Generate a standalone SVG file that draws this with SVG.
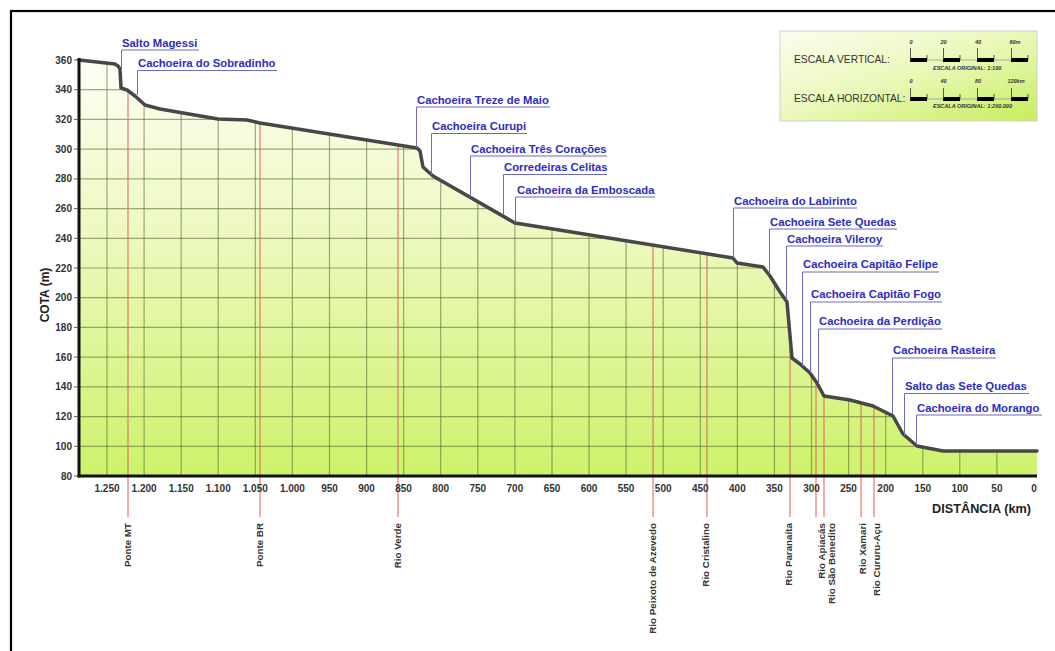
<svg xmlns="http://www.w3.org/2000/svg" width="1055" height="651" viewBox="0 0 1055 651">
<defs>
<linearGradient id="fillGrad" x1="0" y1="60" x2="0" y2="476" gradientUnits="userSpaceOnUse">
<stop offset="0" stop-color="#fdfef4"/>
<stop offset="0.4" stop-color="#eef9c2"/>
<stop offset="1" stop-color="#cdf26a"/>
</linearGradient>
<linearGradient id="legGrad" x1="0" y1="0" x2="1" y2="1">
<stop offset="0" stop-color="#fbfdf0"/>
<stop offset="0.5" stop-color="#eaf8b8"/>
<stop offset="1" stop-color="#c6ee5c"/>
</linearGradient>
<clipPath id="fillClip">
<path d="M79,60 L115,64 L118,66 L120,69 L121,88 L127,90 L135,96 L145,105 L160,109 L218,119 L247,120 L260,123 L417,148 L420,151 L423,167 L433,176 L515,223 L553,229 L733,258 L737,263 L763,267 L770,276 L780,292 L787,302 L792,358 L800,364 L810,373 L817,383 L824,396 L850,400 L873,406 L893,416 L903,434 L917,446 L943,451 L1037,451 L1037,476 L79,476 Z"/>
</clipPath>
<style>
.grid line{stroke:#56652c;stroke-opacity:0.55;stroke-width:1.2}
.ylab{font-family:"Liberation Sans",Arial,sans-serif;font-size:10px;font-weight:bold;fill:#333;text-anchor:end}
.xlab{font-family:"Liberation Sans",Arial,sans-serif;font-size:10px;font-weight:bold;fill:#333;text-anchor:middle}
.river line{stroke:#e0605a;stroke-width:1.2;stroke-opacity:0.85}
.rlab{font-family:"Liberation Sans",Arial,sans-serif;font-size:9.8px;font-weight:bold;fill:#333;text-anchor:end}
.fall text{font-family:"Liberation Sans",Arial,sans-serif;font-size:11.3px;font-weight:bold;fill:#2d2dbf}
.fall line{stroke:#6b6bbf;stroke-width:1}
.leg{font-family:"Liberation Sans",Arial,sans-serif;font-size:10.3px;fill:#333}
.tiny{font-family:"Liberation Sans",Arial,sans-serif;font-size:5.5px;font-weight:bold;font-style:italic;fill:#333}
.tk{stroke:#333;stroke-width:0.8}
</style>
</defs>
<rect x="0" y="0" width="1055" height="651" fill="#ffffff"/>
<rect x="11" y="11" width="1100" height="700" fill="none" stroke="#000" stroke-width="2.2"/>

<g id="profile-area">
<path d="M79,60 L115,64 L118,66 L120,69 L121,88 L127,90 L135,96 L145,105 L160,109 L218,119 L247,120 L260,123 L417,148 L420,151 L423,167 L433,176 L515,223 L553,229 L733,258 L737,263 L763,267 L770,276 L780,292 L787,302 L792,358 L800,364 L810,373 L817,383 L824,396 L850,400 L873,406 L893,416 L903,434 L917,446 L943,451 L1037,451 L1037,476 L79,476 Z" fill="url(#fillGrad)"/>
<g class="grid" clip-path="url(#fillClip)">
<line x1="107" y1="40" x2="107" y2="476"/><line x1="144.1" y1="40" x2="144.1" y2="476"/><line x1="181.2" y1="40" x2="181.2" y2="476"/><line x1="218.2" y1="40" x2="218.2" y2="476"/><line x1="255.3" y1="40" x2="255.3" y2="476"/><line x1="292.4" y1="40" x2="292.4" y2="476"/><line x1="329.5" y1="40" x2="329.5" y2="476"/><line x1="366.6" y1="40" x2="366.6" y2="476"/><line x1="403.6" y1="40" x2="403.6" y2="476"/><line x1="440.7" y1="40" x2="440.7" y2="476"/><line x1="477.8" y1="40" x2="477.8" y2="476"/><line x1="514.9" y1="40" x2="514.9" y2="476"/><line x1="552" y1="40" x2="552" y2="476"/><line x1="589" y1="40" x2="589" y2="476"/><line x1="626.1" y1="40" x2="626.1" y2="476"/><line x1="663.2" y1="40" x2="663.2" y2="476"/><line x1="700.3" y1="40" x2="700.3" y2="476"/><line x1="737.4" y1="40" x2="737.4" y2="476"/><line x1="774.4" y1="40" x2="774.4" y2="476"/><line x1="811.5" y1="40" x2="811.5" y2="476"/><line x1="848.6" y1="40" x2="848.6" y2="476"/><line x1="885.7" y1="40" x2="885.7" y2="476"/><line x1="922.8" y1="40" x2="922.8" y2="476"/><line x1="959.8" y1="40" x2="959.8" y2="476"/><line x1="996.9" y1="40" x2="996.9" y2="476"/>
<line x1="79" y1="446.3" x2="1040" y2="446.3"/><line x1="79" y1="416.6" x2="1040" y2="416.6"/><line x1="79" y1="386.9" x2="1040" y2="386.9"/><line x1="79" y1="357.1" x2="1040" y2="357.1"/><line x1="79" y1="327.4" x2="1040" y2="327.4"/><line x1="79" y1="297.7" x2="1040" y2="297.7"/><line x1="79" y1="268" x2="1040" y2="268"/><line x1="79" y1="238.3" x2="1040" y2="238.3"/><line x1="79" y1="208.6" x2="1040" y2="208.6"/><line x1="79" y1="178.9" x2="1040" y2="178.9"/><line x1="79" y1="149.1" x2="1040" y2="149.1"/><line x1="79" y1="119.4" x2="1040" y2="119.4"/><line x1="79" y1="89.7" x2="1040" y2="89.7"/>
</g>
</g>

<g id="rivers" class="river">
<line x1="128" y1="91" x2="128" y2="517"/>
<line x1="260" y1="123" x2="260" y2="517"/>
<line x1="398" y1="145" x2="398" y2="517"/>
<line x1="653" y1="245" x2="653" y2="517"/>
<line x1="707" y1="254" x2="707" y2="517"/>
<line x1="790" y1="330" x2="790" y2="517"/>
<line x1="816" y1="382" x2="816" y2="517"/>
<line x1="824" y1="396" x2="824" y2="517"/>
<line x1="861" y1="403" x2="861" y2="517"/>
<line x1="874" y1="406" x2="874" y2="517"/>
</g>

<g id="profile-line">
<path d="M79,60 L115,64 L118,66 L120,69 L121,88 L127,90 L135,96 L145,105 L160,109 L218,119 L247,120 L260,123 L417,148 L420,151 L423,167 L433,176 L515,223 L553,229 L733,258 L737,263 L763,267 L770,276 L780,292 L787,302 L792,358 L800,364 L810,373 L817,383 L824,396 L850,400 L873,406 L893,416 L903,434 L917,446 L943,451 L1037,451" fill="none" stroke="#474747" stroke-width="3.5" stroke-linejoin="round" stroke-linecap="round"/>
</g>

<g id="axes">
<line x1="79" y1="58" x2="79" y2="477.5" stroke="#111" stroke-width="3"/>
<line x1="77.5" y1="476" x2="1037" y2="476" stroke="#111" stroke-width="3"/>
<g class="tk">
<line x1="74" y1="60" x2="79" y2="60"/><line x1="74" y1="89.7" x2="79" y2="89.7"/><line x1="74" y1="119.4" x2="79" y2="119.4"/><line x1="74" y1="149.1" x2="79" y2="149.1"/><line x1="74" y1="178.9" x2="79" y2="178.9"/><line x1="74" y1="208.6" x2="79" y2="208.6"/><line x1="74" y1="238.3" x2="79" y2="238.3"/><line x1="74" y1="268" x2="79" y2="268"/><line x1="74" y1="297.7" x2="79" y2="297.7"/><line x1="74" y1="327.4" x2="79" y2="327.4"/><line x1="74" y1="357.1" x2="79" y2="357.1"/><line x1="74" y1="386.9" x2="79" y2="386.9"/><line x1="74" y1="416.6" x2="79" y2="416.6"/><line x1="74" y1="446.3" x2="79" y2="446.3"/><line x1="74" y1="476" x2="79" y2="476"/>
</g>
<g class="ylab">
<text x="72" y="63.5">360</text><text x="72" y="93.2">340</text><text x="72" y="122.9">320</text><text x="72" y="152.6">300</text><text x="72" y="182.4">280</text><text x="72" y="212.1">260</text><text x="72" y="241.8">240</text><text x="72" y="271.5">220</text><text x="72" y="301.2">200</text><text x="72" y="330.9">180</text><text x="72" y="360.6">160</text><text x="72" y="390.4">140</text><text x="72" y="420.1">120</text><text x="72" y="449.8">100</text><text x="72" y="479.5">80</text>
</g>
<text transform="translate(49,295) rotate(-90)" text-anchor="middle" font-family="Liberation Sans, Arial, sans-serif" font-size="12" font-weight="bold" fill="#222">COTA (m)</text>
<g class="xlab">
<text x="107" y="492">1.250</text><text x="144.1" y="492">1.200</text><text x="181.2" y="492">1.150</text><text x="218.2" y="492">1.100</text><text x="255.3" y="492">1.050</text><text x="292.4" y="492">1.000</text><text x="329.5" y="492">950</text><text x="366.6" y="492">900</text><text x="403.6" y="492">850</text><text x="440.7" y="492">800</text><text x="477.8" y="492">750</text><text x="514.9" y="492">700</text><text x="552" y="492">650</text><text x="589" y="492">600</text><text x="626.1" y="492">550</text><text x="663.2" y="492">500</text><text x="700.3" y="492">450</text><text x="737.4" y="492">400</text><text x="774.4" y="492">350</text><text x="811.5" y="492">300</text><text x="848.6" y="492">250</text><text x="885.7" y="492">200</text><text x="922.8" y="492">150</text><text x="959.8" y="492">100</text><text x="996.9" y="492">50</text><text x="1034" y="492">0</text>
</g>
<text x="1031" y="513" text-anchor="end" font-family="Liberation Sans, Arial, sans-serif" font-size="12.7" font-weight="bold" fill="#222">DISTÂNCIA (km)</text>
</g>

<g id="river-labels" class="rlab">
<text transform="translate(131,523) rotate(-90)">Ponte MT</text>
<text transform="translate(263,523) rotate(-90)">Ponte BR</text>
<text transform="translate(401,523) rotate(-90)">Rio Verde</text>
<text transform="translate(656,523) rotate(-90)">Rio Peixoto de Azevedo</text>
<text transform="translate(709,523) rotate(-90)">Rio Cristalino</text>
<text transform="translate(792,523) rotate(-90)">Rio Paranaíta</text>
<text transform="translate(825,523) rotate(-90)">Rio Apiacás</text>
<text transform="translate(835,523) rotate(-90)">Rio São Benedito</text>
<text transform="translate(866,523) rotate(-90)">Rio Xamari</text>
<text transform="translate(880,523) rotate(-90)">Rio Cururu-Açu</text>
</g>

<g id="fall-salto-magessi" class="fall"><line x1="121.5" y1="50" x2="199" y2="50"/><line x1="121.5" y1="50" x2="121.5" y2="72"/><text x="122" y="46.5">Salto Magessi</text></g>
<g id="fall-sobradinho" class="fall"><line x1="137.5" y1="70.5" x2="277" y2="70.5"/><line x1="137.5" y1="70.5" x2="137.5" y2="95"/><text x="138" y="67">Cachoeira do Sobradinho</text></g>
<g id="fall-treze-de-maio" class="fall"><line x1="416.5" y1="107" x2="550" y2="107"/><line x1="416.5" y1="107" x2="416.5" y2="148"/><text x="417" y="103.5">Cachoeira Treze de Maio</text></g>
<g id="fall-curupi" class="fall"><line x1="431.5" y1="133.5" x2="527" y2="133.5"/><line x1="431.5" y1="133.5" x2="431.5" y2="175"/><text x="432" y="130">Cachoeira Curupi</text></g>
<g id="fall-tres-coracoes" class="fall"><line x1="470.5" y1="156" x2="607" y2="156"/><line x1="470.5" y1="156" x2="470.5" y2="197"/><text x="471" y="152.5">Cachoeira Três Corações</text></g>
<g id="fall-celitas" class="fall"><line x1="503.5" y1="174.5" x2="607" y2="174.5"/><line x1="503.5" y1="174.5" x2="503.5" y2="215"/><text x="504" y="171">Corredeiras Celitas</text></g>
<g id="fall-emboscada" class="fall"><line x1="515.5" y1="197" x2="655" y2="197"/><line x1="515.5" y1="197" x2="515.5" y2="223"/><text x="517" y="193.5">Cachoeira da Emboscada</text></g>
<g id="fall-labirinto" class="fall"><line x1="733.5" y1="208" x2="857" y2="208"/><line x1="733.5" y1="208" x2="733.5" y2="258"/><text x="734" y="204.5">Cachoeira do Labirinto</text></g>
<g id="fall-sete-quedas" class="fall"><line x1="769.5" y1="229" x2="897" y2="229"/><line x1="769.5" y1="229" x2="769.5" y2="274"/><text x="770" y="225.5">Cachoeira Sete Quedas</text></g>
<g id="fall-vileroy" class="fall"><line x1="786.5" y1="246" x2="883" y2="246"/><line x1="786.5" y1="246" x2="786.5" y2="300"/><text x="787" y="242.5">Cachoeira Vileroy</text></g>
<g id="fall-capitao-felipe" class="fall"><line x1="802.5" y1="272" x2="939" y2="272"/><line x1="802.5" y1="272" x2="802.5" y2="366"/><text x="803" y="268">Cachoeira Capitão Felipe</text></g>
<g id="fall-capitao-fogo" class="fall"><line x1="810.5" y1="302" x2="942" y2="302"/><line x1="810.5" y1="302" x2="810.5" y2="373"/><text x="811" y="298">Cachoeira Capitão Fogo</text></g>
<g id="fall-perdicao" class="fall"><line x1="818.5" y1="329" x2="942" y2="329"/><line x1="818.5" y1="329" x2="818.5" y2="384"/><text x="819" y="325">Cachoeira da Perdição</text></g>
<g id="fall-rasteira" class="fall"><line x1="892.5" y1="358" x2="996" y2="358"/><line x1="892.5" y1="358" x2="892.5" y2="414"/><text x="893" y="354">Cachoeira Rasteira</text></g>
<g id="fall-salto-sete-quedas" class="fall"><line x1="904.5" y1="393.5" x2="1029" y2="393.5"/><line x1="904.5" y1="393.5" x2="904.5" y2="436"/><text x="905" y="390">Salto das Sete Quedas</text></g>
<g id="fall-morango" class="fall"><line x1="916.5" y1="415" x2="1042" y2="415"/><line x1="916.5" y1="415" x2="916.5" y2="445"/><text x="917" y="411.5">Cachoeira do Morango</text></g>

<g id="legend">
<rect x="780" y="31" width="257" height="90" fill="url(#legGrad)" stroke="#d0d0d0" stroke-width="1"/>
<text class="leg" x="794" y="63">ESCALA VERTICAL:</text>
<text class="leg" x="794" y="102">ESCALA HORIZONTAL:</text>
<line x1="910" y1="60" x2="1028" y2="60" stroke="#999" stroke-width="0.8"/>
<rect x="910" y="58" width="17" height="4" fill="#000"/><rect x="943" y="58" width="17" height="4" fill="#000"/><rect x="977" y="58" width="17" height="4" fill="#000"/><rect x="1011" y="58" width="17" height="4" fill="#000"/>
<g class="tk"><line x1="910.5" y1="48" x2="910.5" y2="60"/><line x1="943.5" y1="48" x2="943.5" y2="60"/><line x1="977.5" y1="48" x2="977.5" y2="60"/><line x1="1011.5" y1="48" x2="1011.5" y2="60"/><line x1="927" y1="55" x2="927" y2="60"/><line x1="960" y1="55" x2="960" y2="60"/><line x1="994" y1="55" x2="994" y2="60"/><line x1="1028" y1="55" x2="1028" y2="60"/></g>
<text class="tiny" x="911" y="44" text-anchor="middle">0</text><text class="tiny" x="943.5" y="44" text-anchor="middle">20</text><text class="tiny" x="978" y="44" text-anchor="middle">40</text><text class="tiny" x="1015" y="44" text-anchor="middle">60m</text>
<text class="tiny" x="933" y="70">ESCALA ORIGINAL: 1:100</text>
<line x1="910" y1="99" x2="1028" y2="99" stroke="#999" stroke-width="0.8"/>
<rect x="910" y="97" width="17" height="4" fill="#000"/><rect x="943" y="97" width="17" height="4" fill="#000"/><rect x="977" y="97" width="17" height="4" fill="#000"/><rect x="1011" y="97" width="17" height="4" fill="#000"/>
<g class="tk"><line x1="910.5" y1="88" x2="910.5" y2="99"/><line x1="943.5" y1="88" x2="943.5" y2="99"/><line x1="977.5" y1="88" x2="977.5" y2="99"/><line x1="1011.5" y1="88" x2="1011.5" y2="99"/><line x1="927" y1="94" x2="927" y2="99"/><line x1="960" y1="94" x2="960" y2="99"/><line x1="994" y1="94" x2="994" y2="99"/><line x1="1028" y1="94" x2="1028" y2="99"/></g>
<text class="tiny" x="911" y="83" text-anchor="middle">0</text><text class="tiny" x="943.5" y="83" text-anchor="middle">40</text><text class="tiny" x="978" y="83" text-anchor="middle">80</text><text class="tiny" x="1016" y="83" text-anchor="middle">120km</text>
<text class="tiny" x="933" y="108">ESCALA ORIGINAL: 1:200.000</text>
</g>
</svg>
